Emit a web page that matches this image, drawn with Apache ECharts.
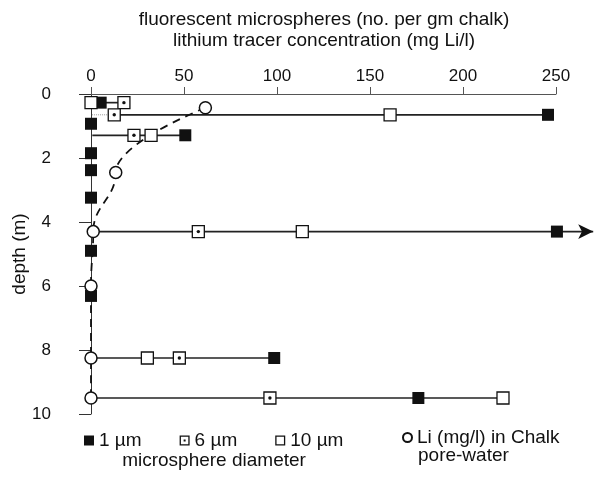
<!DOCTYPE html>
<html>
<head>
<meta charset="utf-8">
<script src="https://cdn.jsdelivr.net/npm/echarts@6/dist/echarts.min.js"></script>
<style>
    html, body { margin: 0; padding: 0; background: #fff; }
    #chart { width: 609px; height: 485px; }
</style>
</head>
<body>
<div id="chart"></div>
<script>
    // [count per gm chalk, depth m]
    var sphere1 = [[5.2, 0.27], [245.7, 0.65], [0, 0.93], [50.7, 1.29], [0, 1.85], [0, 2.38], [0, 3.24],
        [250.5, 4.30], [0, 4.90], [0, 6.31], [98.5, 8.25], [176, 9.5]];
    var sphere6 = [[17.7, 0.27], [12.5, 0.65], [23.1, 1.29], [57.7, 4.30], [47.5, 8.25], [96.2, 9.5]];
    var sphere10 = [[0, 0.27], [160.8, 0.65], [32.3, 1.29], [113.6, 4.30], [30.3, 8.25], [221.5, 9.5]];
    // [mg Li/l, depth m]
    var lithium = [[61.5, 0.43], [13.3, 2.45], [1.2, 4.30], [0, 6.0], [0, 8.25], [0, 9.5]];
    // horizontal lines: [depth, from, to]
    var rowLines = [[0.27, 5.2, 17.7], [0.65, 12.5, 245.7], [1.29, 0.7, 50.7], [8.25, 0, 98.5], [9.5, 0, 221.5]];
    var arrowRow = [4.30, 1.2, 270];
    var dottedRow = [0.65, 0.5, 12.5];
    var xTicks = [0, 250, 50];
    var yTicks = [0, 10, 2];

    var FONT = '"Liberation Sans", Arial, Helvetica, sans-serif';
    var INK = '#111';
    // px per unit on the visible axis, data grid runs a bit past 250 for the arrow
    var PX = 465 / 250;
    var DATA_MAX = 285;

    var series = [];
    function onData(s) {
        s.xAxisIndex = 1;
        s.yAxisIndex = 1;
        s.clip = false;
        series.push(s);
    }

    rowLines.forEach(function (r) {
        onData({
            type: 'line', symbol: 'none', silent: true, z: 1,
            lineStyle: { color: '#222', width: 1.7 },
            data: [[r[1], r[0]], [r[2], r[0]]]
        });
    });
    onData({
        type: 'line', symbol: 'none', silent: true, z: 1,
        lineStyle: { color: '#999', width: 1, type: 'dotted' },
        data: [[dottedRow[1], dottedRow[0]], [dottedRow[2], dottedRow[0]]]
    });
    onData({
        type: 'line', silent: true, z: 1, symbol: 'none',
        lineStyle: { color: '#222', width: 1.7 },
        data: [[arrowRow[1], arrowRow[0]],
            { value: [arrowRow[2], arrowRow[0]], symbol: 'arrow', symbolSize: [11, 15], symbolRotate: -90,
              itemStyle: { color: INK } }]
    });
    // Li profile
    onData({
        type: 'line', symbol: 'none', silent: true, z: 2,
        smooth: 0.45, smoothMonotone: 'y',
        lineStyle: { color: INK, width: 1.8, type: [8, 6] },
        data: lithium
    });

    onData({
        name: '1 µm', type: 'scatter', symbol: 'rect', symbolSize: 12, z: 3,
        itemStyle: { color: INK, opacity: 1 },
        data: sphere1
    });
    onData({
        name: '10 µm', type: 'scatter', symbol: 'rect', symbolSize: 12, z: 3,
        itemStyle: { color: '#fff', borderColor: INK, borderWidth: 1.3, opacity: 1 },
        data: sphere10
    });
    onData({
        name: '6 µm', type: 'scatter', symbol: 'rect', symbolSize: 12, z: 3,
        itemStyle: { color: '#fff', borderColor: INK, borderWidth: 1.3, opacity: 1 },
        data: sphere6
    });
    onData({
        type: 'scatter', symbol: 'circle', symbolSize: 3.4, z: 4, silent: true,
        itemStyle: { color: INK, opacity: 1 },
        data: sphere6
    });
    onData({
        name: 'Li (mg/l) in Chalk', type: 'scatter', symbol: 'circle', symbolSize: 12, z: 5,
        itemStyle: { color: '#fff', borderColor: INK, borderWidth: 1.5, opacity: 1 },
        data: lithium
    });

    var option = {
        animation: false,
        backgroundColor: '#fff',
        textStyle: { fontFamily: FONT, color: INK },
        grid: [
            { left: 91, top: 94, width: 465, height: 320, containLabel: false, outerBoundsMode: 'none' },
            { left: 91, top: 94, width: DATA_MAX * PX, height: 320, containLabel: false, outerBoundsMode: 'none' }
        ],
        xAxis: [{
            type: 'value', position: 'top', gridIndex: 0,
            min: xTicks[0], max: xTicks[1], interval: xTicks[2],
            axisLine: { show: true, lineStyle: { color: '#555', width: 1 } },
            axisTick: { show: true, length: 7, lineStyle: { color: '#555' } },
            axisLabel: { margin: 9, fontSize: 17, color: INK, fontFamily: FONT },
            splitLine: { show: false }
        }, {
            type: 'value', gridIndex: 1, show: false, min: 0, max: DATA_MAX
        }],
        yAxis: [{
            type: 'value', inverse: true, offset: 24, gridIndex: 0,
            min: yTicks[0], max: yTicks[1], interval: yTicks[2],
            name: 'depth (m)', nameLocation: 'middle', nameGap: 38, nameRotate: 90,
            nameMoveOverlap: false,
            nameTextStyle: { fontSize: 19, color: INK, fontFamily: FONT },
            axisLine: { show: true, lineStyle: { color: '#333', width: 1 } },
            axisTick: { show: true, length: 12, lineStyle: { color: '#333' } },
            axisLabel: { margin: 16, fontSize: 17, color: INK, fontFamily: FONT },
            splitLine: { show: false }
        }, {
            type: 'value', inverse: true, gridIndex: 1, show: false,
            min: yTicks[0], max: yTicks[1]
        }],
        legend: [{
            left: 79, top: 426, orient: 'horizontal', selectedMode: false,
            itemWidth: 10, itemHeight: 10, itemGap: 38,
            textStyle: { fontSize: 19, color: INK, fontFamily: FONT },
            data: [
                { name: '1 µm', icon: 'rect' },
                { name: '6 µm', icon: 'path://M0,0H10V10H0Z M1.3,1.3V8.7H8.7V1.3Z M4,4H6V6H4Z',
                  itemStyle: { color: INK, borderWidth: 0 } },
                { name: '10 µm', icon: 'path://M0,0H10V10H0Z M1.3,1.3V8.7H8.7V1.3Z',
                  itemStyle: { color: INK, borderWidth: 0 } }
            ]
        }, {
            left: 397, top: 423, selectedMode: false,
            itemWidth: 9, itemHeight: 9,
            textStyle: { fontSize: 19, color: INK, fontFamily: FONT },
            data: [{ name: 'Li (mg/l) in Chalk', icon: 'circle' }]
        }],
        graphic: [
            { type: 'text', x: 324, y: 20, style: { text: 'fluorescent microspheres (no. per gm chalk)',
                font: '19px ' + FONT, fill: INK, align: 'center', verticalAlign: 'middle' } },
            { type: 'text', x: 324, y: 41, style: { text: 'lithium tracer concentration (mg Li/l)',
                font: '19px ' + FONT, fill: INK, align: 'center', verticalAlign: 'middle' } },
            { type: 'text', x: 214, y: 461, style: { text: 'microsphere diameter',
                font: '19px ' + FONT, fill: INK, align: 'center', verticalAlign: 'middle' } },
            { type: 'text', x: 418, y: 456, style: { text: 'pore-water',
                font: '19px ' + FONT, fill: INK, align: 'left', verticalAlign: 'middle' } }
        ],
        series: series
    };

    var myChart = echarts.init(document.getElementById('chart'));
    myChart.setOption(option);
</script>
</body>
</html>
